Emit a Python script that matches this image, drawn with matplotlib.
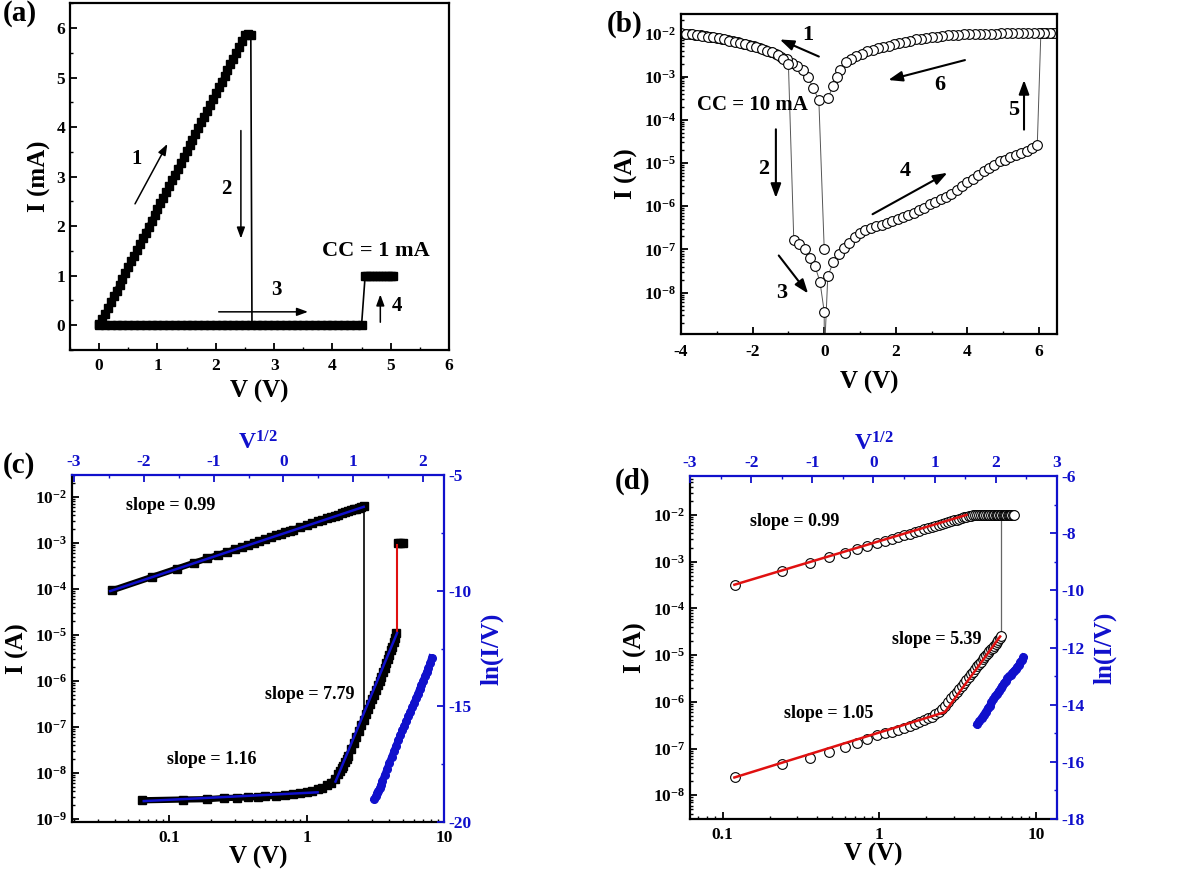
import numpy as np
import matplotlib
matplotlib.use("Agg")
import matplotlib.pyplot as plt
from matplotlib.ticker import MultipleLocator, LogLocator, FixedLocator, FuncFormatter, NullFormatter

plt.rcParams.update({
    "font.family": ["Liberation Serif", "DejaVu Serif"],
    "font.weight": "bold",
    "axes.labelweight": "bold",
    "axes.unicode_minus": False,
    "mathtext.fontset": "custom",
    "mathtext.rm": "Liberation Serif:bold",
    "mathtext.bf": "Liberation Serif:bold",
    "mathtext.it": "Liberation Serif:italic:bold",
    "axes.linewidth": 1.6,
    "xtick.direction": "in",
    "ytick.direction": "in",
    "xtick.labelsize": 12.5,
    "ytick.labelsize": 12.5,
    "xtick.major.size": 5,
    "ytick.major.size": 5,
    "xtick.minor.size": 2.5,
    "ytick.minor.size": 2.5,
    "xtick.major.width": 1.3,
    "ytick.major.width": 1.3,
    "xtick.minor.width": 1.0,
    "ytick.minor.width": 1.0,
})

BLUE = "#1010cc"
RED = "#e01010"

# ---------------- (a) linear I-V ----------------
a_set_v = [0.0, 0.05, 0.1, 0.15, 0.2, 0.25, 0.3, 0.35, 0.4, 0.45, 0.5, 0.55, 0.6, 0.65,
           0.7, 0.75, 0.8, 0.85, 0.9, 0.95, 1.0, 1.05, 1.1, 1.15, 1.2, 1.25, 1.3, 1.35,
           1.4, 1.45, 1.5, 1.55, 1.6, 1.65, 1.7, 1.75, 1.8, 1.85, 1.9, 1.95, 2.0, 2.05,
           2.1, 2.15, 2.2, 2.25, 2.3, 2.35, 2.4, 2.45, 2.5, 2.55, 2.6]
a_set_i = [0.02, 0.12, 0.23, 0.35, 0.47, 0.59, 0.70, 0.82, 0.94, 1.05, 1.17, 1.29, 1.40, 1.52,
           1.64, 1.76, 1.87, 1.99, 2.11, 2.22, 2.34, 2.46, 2.57, 2.69, 2.81, 2.93, 3.04, 3.16,
           3.28, 3.39, 3.51, 3.63, 3.74, 3.86, 3.98, 4.10, 4.21, 4.33, 4.45, 4.56, 4.68, 4.80,
           4.91, 5.03, 5.15, 5.27, 5.38, 5.50, 5.62, 5.73, 5.85, 5.88, 5.86]
a_drop_v = [2.6, 2.62]
a_drop_i = [5.86, 0.02]
a_off_v = [0.0, 0.1, 0.2, 0.3, 0.4, 0.5, 0.6, 0.7, 0.8, 0.9, 1.0, 1.1, 1.2, 1.3, 1.4, 1.5,
           1.6, 1.7, 1.8, 1.9, 2.0, 2.1, 2.2, 2.3, 2.4, 2.5, 2.6, 2.7, 2.8, 2.9, 3.0, 3.1,
           3.2, 3.3, 3.4, 3.5, 3.6, 3.7, 3.8, 3.9, 4.0, 4.1, 4.2, 4.3, 4.4, 4.5]
a_off_i = [0.0] * len(a_off_v)
a_jump_v = [4.5, 4.56]
a_jump_i = [0.03, 1.0]
a_cc_v = [4.56, 4.6, 4.65, 4.7, 4.75, 4.8, 4.85, 4.9, 4.95, 5.0, 5.03]
a_cc_i = [1.0, 1.0, 1.0, 1.0, 1.0, 1.0, 1.0, 1.0, 1.0, 1.0, 1.0]

# ---------------- (b) semilog sweep (measurement order) ----------------
b_neg_v = [0.0, -0.15, -0.3, -0.45, -0.6, -0.75, -0.9, -1.05, -1.2, -1.35, -1.5, -1.65, -1.8,
           -1.95, -2.1, -2.25, -2.4, -2.55, -2.7, -2.85, -3.0, -3.15, -3.3, -3.45, -3.6, -3.75,
           -3.9, -4.0,
           -3.85, -3.7, -3.55, -3.4, -3.25, -3.1, -2.95, -2.8, -2.65, -2.5, -2.35, -2.2, -2.05,
           -1.9, -1.75, -1.6, -1.45, -1.3, -1.15, -1.0]
b_neg_i = [1.0e-7, 2.8e-4, 5.3e-4, 9.5e-4, 1.4e-3, 1.75e-3, 2.1e-3, 2.5e-3, 2.9e-3, 3.3e-3,
           3.7e-3, 4.2e-3, 4.6e-3, 5.0e-3, 5.4e-3, 5.8e-3, 6.2e-3, 6.6e-3, 7.0e-3, 7.4e-3,
           7.8e-3, 8.2e-3, 8.6e-3, 9.0e-3, 9.3e-3, 9.6e-3, 9.9e-3, 1.0e-2,
           9.8e-3, 9.5e-3, 9.1e-3, 8.8e-3, 8.4e-3, 8.0e-3, 7.6e-3, 7.2e-3, 6.8e-3, 6.4e-3,
           6.0e-3, 5.6e-3, 5.2e-3, 4.8e-3, 4.4e-3, 4.0e-3, 3.6e-3, 3.1e-3, 2.6e-3, 1.9e-3]
b_hrs_v = [-0.85, -0.7, -0.55, -0.4, -0.26, -0.12, 0.0, 0.0,
           0.1, 0.25, 0.4, 0.55, 0.7, 0.85, 1.0, 1.15, 1.3, 1.45, 1.6, 1.75, 1.9, 2.05, 2.2,
           2.35, 2.5, 2.65, 2.8, 2.95, 3.1, 3.25, 3.4, 3.55, 3.7, 3.85, 4.0, 4.15, 4.3, 4.45,
           4.6, 4.75, 4.9, 5.05, 5.2, 5.35, 5.5, 5.65, 5.8, 5.95]
b_hrs_i = [1.65e-7, 1.3e-7, 1.0e-7, 6.4e-8, 4.1e-8, 1.8e-8, 3.6e-9, 3.0e-10,
           2.4e-8, 5.0e-8, 8.0e-8, 1.1e-7, 1.4e-7, 1.9e-7, 2.4e-7, 2.8e-7, 3.1e-7, 3.4e-7,
           3.7e-7, 4.1e-7, 4.5e-7, 5.1e-7, 5.7e-7, 6.3e-7, 7.1e-7, 8.0e-7, 9.2e-7, 1.1e-6,
           1.25e-6, 1.45e-6, 1.65e-6, 1.95e-6, 2.4e-6, 2.9e-6, 3.6e-6, 4.3e-6, 5.2e-6, 6.4e-6,
           7.6e-6, 9.0e-6, 1.08e-5, 1.2e-5, 1.38e-5, 1.53e-5, 1.7e-5, 1.9e-5, 2.2e-5, 2.6e-5]
b_lrs_v = [6.05, 6.2, 6.35, 6.45, 6.3, 6.15, 6.0, 5.85, 5.7, 5.55, 5.4, 5.25, 5.1, 4.95, 4.8,
           4.65, 4.5, 4.35, 4.2, 4.05, 3.9, 3.75, 3.6, 3.45, 3.3, 3.15, 3.0, 2.85, 2.7, 2.55,
           2.4, 2.25, 2.1, 1.95, 1.8, 1.65, 1.5, 1.35, 1.2, 1.05, 0.9, 0.75, 0.6, 0.45, 0.35,
           0.25, 0.1]
b_lrs_i = [1.0e-2, 1.0e-2, 1.0e-2, 1.0e-2, 1.0e-2, 1.0e-2, 1.0e-2, 1.0e-2, 1.0e-2, 1.0e-2,
           1.0e-2, 1.0e-2, 1.0e-2, 1.0e-2, 9.9e-3, 9.9e-3, 9.8e-3, 9.8e-3, 9.7e-3, 9.6e-3,
           9.5e-3, 9.3e-3, 9.1e-3, 8.9e-3, 8.7e-3, 8.4e-3, 8.1e-3, 7.8e-3, 7.5e-3, 7.2e-3,
           6.8e-3, 6.4e-3, 6.0e-3, 5.6e-3, 5.2e-3, 4.9e-3, 4.5e-3, 4.1e-3, 3.8e-3, 3.4e-3,
           3.0e-3, 2.6e-3, 2.2e-3, 1.45e-3, 1.0e-3, 6.1e-4, 3.1e-4]

# ---------------- (c) log-log, squares ----------------
c_lrs_v = [0.038, 0.075, 0.113, 0.15, 0.188, 0.225, 0.263, 0.3, 0.338, 0.375, 0.413, 0.45,
           0.5, 0.55, 0.6, 0.65, 0.7, 0.75, 0.8, 0.9, 1.0, 1.1, 1.2, 1.3, 1.4, 1.5, 1.6, 1.7,
           1.8, 1.9, 2.0, 2.1, 2.2, 2.3, 2.4, 2.5, 2.6]
c_lrs_i = [9.3e-5, 1.84e-4, 2.77e-4, 3.68e-4, 4.6e-4, 5.5e-4, 6.4e-4, 7.3e-4, 8.3e-4, 9.2e-4,
           1.01e-3, 1.1e-3, 1.22e-3, 1.35e-3, 1.47e-3, 1.59e-3, 1.71e-3, 1.84e-3, 1.96e-3,
           2.2e-3, 2.45e-3, 2.69e-3, 2.93e-3, 3.18e-3, 3.42e-3, 3.66e-3, 3.91e-3, 4.15e-3,
           4.39e-3, 4.64e-3, 4.88e-3, 5.12e-3, 5.37e-3, 5.61e-3, 5.85e-3, 6.1e-3, 6.3e-3]
c_hrs_v = [0.063, 0.125, 0.188, 0.25, 0.313, 0.375, 0.438, 0.5, 0.6, 0.7, 0.8, 0.9, 1.0, 1.1,
           1.2, 1.3, 1.4, 1.5, 1.6, 1.7, 1.75, 1.8, 1.85, 1.9, 1.95, 2.0, 2.1, 2.2, 2.3, 2.4,
           2.5, 2.6, 2.7, 2.8, 2.9, 3.0, 3.1, 3.2, 3.3, 3.4, 3.5, 3.6, 3.7, 3.8, 3.9, 4.0, 4.1,
           4.2, 4.3, 4.4, 4.5]
c_hrs_i = [2.55e-9, 2.65e-9, 2.7e-9, 2.85e-9, 2.9e-9, 2.95e-9, 3.0e-9, 3.1e-9, 3.2e-9,
           3.35e-9, 3.5e-9, 3.7e-9, 3.9e-9, 4.1e-9, 4.4e-9, 4.8e-9, 5.4e-9, 6.2e-9, 7.5e-9,
           9.5e-9, 1.1e-8, 1.3e-8, 1.45e-8, 1.7e-8, 2.0e-8, 2.4e-8, 3.3e-8, 4.5e-8, 6.2e-8,
           8.2e-8, 1.1e-7, 1.45e-7, 1.9e-7, 2.45e-7, 3.15e-7, 4.0e-7, 5.0e-7, 6.4e-7, 8.0e-7,
           1.0e-6, 1.25e-6, 1.57e-6, 1.95e-6, 2.45e-6, 3.0e-6, 3.7e-6, 4.6e-6, 5.6e-6, 6.9e-6,
           8.6e-6, 1.12e-5]
c_cc_v = [4.6, 4.8, 5.0]
c_cc_i = [1.0e-3, 1.0e-3, 1.0e-3]
c_reset_v = [2.6, 2.6]
c_reset_i = [6.3e-3, 2.2e-7]
c_set_v = [4.55, 4.55]
c_set_i = [1.15e-5, 9.0e-4]
c_fit_lrs_v, c_fit_lrs_i = [0.037, 2.6], [9.0e-5, 6.1e-3]
c_fit_ohm_v, c_fit_ohm_i = [0.065, 1.2], [2.45e-9, 3.8e-9]
c_fit_tcl_v, c_fit_tcl_i = [1.62, 4.55], [6.5e-9, 1.1e-5]

# ---------------- (d) log-log, circles ----------------
d_lrs_v = [0.12, 0.24, 0.36, 0.48, 0.6, 0.72, 0.84, 0.96, 1.08, 1.2, 1.32, 1.44, 1.56, 1.68,
           1.8, 1.92, 2.04, 2.16, 2.28, 2.4, 2.52, 2.64, 2.76, 2.88, 3.0, 3.12, 3.24, 3.36,
           3.48, 3.6, 3.72, 3.84, 3.96, 4.08, 4.2, 4.32, 4.44, 4.56, 4.68, 4.8, 4.92, 5.04,
           5.16, 5.28, 5.4, 5.52, 5.64, 5.76, 5.88, 6.0, 6.12, 6.24, 6.36, 6.48, 6.6, 6.72,
           6.84, 6.96, 7.08, 7.2]
d_lrs_i = [3.1e-4, 6.2e-4, 9.2e-4, 1.23e-3, 1.5e-3, 1.82e-3, 2.15e-3, 2.45e-3, 2.75e-3,
           3.05e-3, 3.35e-3, 3.65e-3, 3.95e-3, 4.3e-3, 4.6e-3, 4.9e-3, 5.2e-3, 5.5e-3, 5.8e-3,
           6.1e-3, 6.4e-3, 6.7e-3, 7.0e-3, 7.3e-3, 7.6e-3, 7.9e-3, 8.2e-3, 8.5e-3, 8.8e-3,
           9.1e-3, 9.4e-3, 9.6e-3, 9.8e-3, 9.9e-3, 1.0e-2, 1.0e-2, 1.0e-2, 1.0e-2, 1.0e-2,
           1.0e-2, 1.0e-2, 1.0e-2, 1.0e-2, 1.0e-2, 1.0e-2, 1.0e-2, 1.0e-2, 1.0e-2, 1.0e-2,
           1.0e-2, 1.0e-2, 1.0e-2, 1.0e-2, 1.0e-2, 1.0e-2, 1.0e-2, 1.0e-2, 1.0e-2, 1.0e-2,
           1.0e-2]
d_hrs_v = [0.12, 0.24, 0.36, 0.48, 0.6, 0.72, 0.84, 0.96, 1.08, 1.2, 1.32, 1.44, 1.56, 1.68,
           1.8, 1.92, 2.04, 2.16, 2.28, 2.4, 2.52, 2.64, 2.76, 2.88, 3.0, 3.12, 3.24, 3.36,
           3.48, 3.6, 3.72, 3.84, 3.96, 4.08, 4.2, 4.32, 4.44, 4.56, 4.68, 4.8, 4.92, 5.04,
           5.16, 5.28, 5.4, 5.52, 5.64, 5.76, 5.88, 6.0]
d_hrs_i = [2.4e-8, 4.6e-8, 6.4e-8, 8.5e-8, 1.1e-7, 1.3e-7, 1.6e-7, 1.9e-7, 2.1e-7, 2.3e-7,
           2.5e-7, 2.75e-7, 3.0e-7, 3.3e-7, 3.7e-7, 4.0e-7, 4.4e-7, 4.8e-7, 5.4e-7, 6.0e-7,
           7.0e-7, 8.3e-7, 1.0e-6, 1.2e-6, 1.42e-6, 1.65e-6, 1.9e-6, 2.2e-6, 2.55e-6, 2.9e-6,
           3.35e-6, 3.85e-6, 4.4e-6, 5.0e-6, 5.7e-6, 6.4e-6, 7.2e-6, 8.1e-6, 9.0e-6, 1.0e-5,
           1.1e-5, 1.2e-5, 1.32e-5, 1.44e-5, 1.57e-5, 1.72e-5, 1.9e-5, 2.1e-5, 2.35e-5, 2.6e-5]
d_reset_v = [6.0, 6.0]
d_reset_i = [1.0e-2, 2.6e-5]
d_fit_lrs_v, d_fit_lrs_i = [0.119, 3.6], [3.2e-4, 1.0e-2]
d_fit_hrs_v, d_fit_hrs_i = [0.119, 2.62, 5.9], [2.4e-8, 6.0e-7, 2.5e-5]


def arrow(ax, start, end, lw=1.5, scale=14):
    ax.annotate("", xy=end, xytext=start,
                arrowprops=dict(arrowstyle="-|>,head_length=0.6,head_width=0.22",
                                lw=lw, color="k", shrinkA=0, shrinkB=0,
                                mutation_scale=scale))


def log_y(ax, lo, hi):
    ax.set_yscale("log")
    ax.set_ylim(lo, hi)
    decades = 10.0 ** np.arange(np.ceil(np.log10(lo)), np.floor(np.log10(hi)) + 1)
    ax.yaxis.set_major_locator(FixedLocator(decades))
    ax.yaxis.set_minor_locator(LogLocator(base=10, subs=(2, 3, 4, 5, 6, 7, 8, 9), numticks=30))
    ax.yaxis.set_minor_formatter(NullFormatter())


def log_x(ax, lo, hi):
    ax.set_xscale("log")
    ax.set_xlim(lo, hi)
    decades = 10.0 ** np.arange(np.ceil(np.log10(lo)), np.floor(np.log10(hi)) + 1)
    ax.xaxis.set_major_locator(FixedLocator(decades))
    ax.xaxis.set_minor_locator(LogLocator(base=10, subs=(2, 3, 4, 5, 6, 7, 8, 9), numticks=30))
    ax.xaxis.set_minor_formatter(NullFormatter())
    ax.xaxis.set_major_formatter(FuncFormatter(lambda x, p: "%g" % x))
    ax.tick_params(axis="x", which="major", pad=6)


def sci(y, p):
    return "10$^{%d}$" % round(np.log10(y))


def overlay(fig, ax):
    # second axes for V^1/2 (top) and ln(I/V) (right)
    ax2 = fig.add_axes(ax.get_position())
    ax2.patch.set_visible(False)
    ax2.xaxis.tick_top()
    ax2.xaxis.set_label_position("top")
    ax2.yaxis.tick_right()
    ax2.yaxis.set_label_position("right")
    ax2.spines["left"].set_visible(False)
    ax2.spines["bottom"].set_visible(False)
    ax2.spines["top"].set_color(BLUE)
    ax2.spines["right"].set_color(BLUE)
    ax2.tick_params(which="both", colors=BLUE, labelcolor=BLUE)
    ax.spines["top"].set_visible(False)
    ax.spines["right"].set_visible(False)
    return ax2


fig = plt.figure(figsize=(12, 8.8), dpi=100)

# ---- (a)
ax = fig.add_axes([0.0583, 0.6023, 0.316, 0.394])
ax.plot(a_set_v, a_set_i, "s-", color="k", ms=5.5, lw=4)
ax.plot(a_drop_v, a_drop_i, "-", color="k", lw=1.2)
ax.plot(a_off_v, a_off_i, "s-", color="k", ms=5.5, lw=4.5)
ax.plot(a_jump_v, a_jump_i, "-", color="k", lw=1.2)
ax.plot(a_cc_v, a_cc_i, "s-", color="k", ms=5.5, lw=4.5)
ax.set_xlim(-0.5, 6)
ax.set_ylim(-0.5, 6.5)
ax.xaxis.set_major_locator(MultipleLocator(1))
ax.xaxis.set_minor_locator(MultipleLocator(0.5))
ax.yaxis.set_major_locator(MultipleLocator(1))
ax.yaxis.set_minor_locator(MultipleLocator(0.5))
ax.tick_params(axis="x", pad=6)
ax.set_xlabel("V (V)", fontsize=18)
ax.set_ylabel("I (mA)", fontsize=18)
arrow(ax, (0.615, 2.45), (1.17, 3.66), lw=1.1, scale=11)
arrow(ax, (2.43, 3.93), (2.43, 1.75), lw=1.1, scale=11)
arrow(ax, (2.05, 0.27), (3.58, 0.27), lw=1.1, scale=11)
arrow(ax, (4.82, 0.06), (4.82, 0.62), lw=1.1, scale=11)
ax.text(0.64, 3.36, "1", fontsize=15, ha="center", va="center")
ax.text(2.18, 2.76, "2", fontsize=15, ha="center", va="center")
ax.text(3.04, 0.72, "3", fontsize=15, ha="center", va="center")
ax.text(5.1, 0.38, "4", fontsize=15, ha="center", va="center")
ax.text(4.74, 1.49, "CC = 1 mA", fontsize=16, ha="center", va="center")

# ---- (b)
ax = fig.add_axes([0.5675, 0.6205, 0.3133, 0.3636])
seq_v = b_neg_v + b_hrs_v + b_lrs_v
seq_i = b_neg_i + b_hrs_i + b_lrs_i
ax.plot(seq_v, seq_i, "-", color="#555555", lw=0.7)
ax.plot(seq_v, seq_i, "o", mfc="white", mec="k", mew=0.8, ms=7)
log_y(ax, 1.1e-9, 2.8e-2)
ax.yaxis.set_major_formatter(FuncFormatter(sci))
ax.set_xlim(-4, 6.5)
ax.xaxis.set_major_locator(MultipleLocator(2))
ax.xaxis.set_minor_locator(MultipleLocator(1))
ax.tick_params(top=False, right=False, which="both")
ax.tick_params(axis="x", pad=7)
ax.set_xlabel("V (V)", fontsize=18, labelpad=8)
ax.set_ylabel("I (A)", fontsize=18)
arrow(ax, (-0.15, 2.9e-3), (-1.24, 7.2e-3))
arrow(ax, (3.93, 2.4e-3), (1.79, 8.3e-4))
arrow(ax, (5.58, 5.9e-5), (5.58, 8.3e-4))
arrow(ax, (-1.35, 6.0e-5), (-1.35, 1.55e-6))
arrow(ax, (1.35, 6.5e-7), (3.44, 5.9e-6))
arrow(ax, (-1.27, 7.2e-8), (-0.45, 9.5e-9))
ax.text(-0.45, 9.2e-3, "1", fontsize=16, ha="center", va="center")
ax.text(3.23, 6.5e-4, "6", fontsize=16, ha="center", va="center")
ax.text(5.28, 1.7e-4, "5", fontsize=16, ha="center", va="center")
ax.text(-1.7, 7.1e-6, "2", fontsize=16, ha="center", va="center")
ax.text(2.25, 6.5e-6, "4", fontsize=16, ha="center", va="center")
ax.text(-1.19, 1.0e-8, "3", fontsize=16, ha="center", va="center")
ax.text(-3.54, 2.2e-4, "CC = 10 mA", fontsize=15, ha="left", va="center")

# ---- (c)
ax = fig.add_axes([0.06, 0.0659, 0.31, 0.3943])
ax.plot(c_lrs_v, c_lrs_i, "s-", color="k", ms=5.5, lw=4.5)
ax.plot(c_hrs_v, c_hrs_i, "s-", color="k", ms=5.5, lw=4.5)
ax.plot(c_cc_v, c_cc_i, "s", color="k", ms=6)
ax.plot(c_reset_v, c_reset_i, "-", color="k", lw=1.2)
ax.plot(c_set_v, c_set_i, "-", color=RED, lw=1.5)
ax.plot(c_fit_lrs_v, c_fit_lrs_i, "-", color=BLUE, lw=1.8)
ax.plot(c_fit_ohm_v, c_fit_ohm_i, "-", color=BLUE, lw=1.8)
ax.plot(c_fit_tcl_v, c_fit_tcl_i, "-", color=BLUE, lw=1.8)
log_x(ax, 0.0195, 10)
log_y(ax, 8.6e-10, 3e-2)
ax.yaxis.set_major_formatter(FuncFormatter(sci))
ax.set_xlabel("V (V)", fontsize=18, labelpad=0)
ax.set_ylabel("I (A)", fontsize=18)
ax.text(0.048, 6.5e-3, "slope = 0.99", fontsize=13, va="center")
ax.text(0.495, 5.2e-7, "slope = 7.79", fontsize=13, va="center")
ax.text(0.096, 1.95e-8, "slope = 1.16", fontsize=13, va="center")
ax2 = overlay(fig, ax)
cv = np.array(c_hrs_v)
ci = np.array(c_hrs_i)
m = cv >= 1.7
ax2.plot(np.sqrt(cv[m]), np.log(ci[m] / cv[m]), "o-", color=BLUE, ms=5.5, lw=5)
ax2.set_xlim(-3.03, 2.3)
ax2.set_ylim(-20, -5)
ax2.xaxis.set_major_locator(MultipleLocator(1))
ax2.xaxis.set_minor_locator(MultipleLocator(0.5))
ax2.yaxis.set_major_locator(MultipleLocator(5))
ax2.yaxis.set_minor_locator(MultipleLocator(2.5))
ax2.set_xlabel("V$^{1/2}$", fontsize=17, color=BLUE, labelpad=3)
ax2.set_ylabel("ln(I/V)", fontsize=18, color=BLUE, labelpad=6)

# ---- (d)
ax = fig.add_axes([0.575, 0.0693, 0.3058, 0.3898])
ax.plot(d_reset_v, d_reset_i, "-", color="#666666", lw=0.9)
ax.plot(d_lrs_v, d_lrs_i, "o", mfc="white", mec="k", mew=0.8, ms=7)
ax.plot(d_hrs_v, d_hrs_i, "o", mfc="white", mec="k", mew=0.8, ms=7)
ax.plot(d_fit_lrs_v, d_fit_lrs_i, "-", color=RED, lw=1.8)
ax.plot(d_fit_hrs_v, d_fit_hrs_i, "-", color=RED, lw=1.8)
log_x(ax, 0.062, 13.6)
log_y(ax, 3.1e-9, 0.068)
ax.yaxis.set_major_formatter(FuncFormatter(sci))
ax.set_xlabel("V (V)", fontsize=18, labelpad=0)
ax.set_ylabel("I (A)", fontsize=18)
ax.text(0.15, 7.4e-3, "slope = 0.99", fontsize=13, va="center")
ax.text(1.2, 2.2e-5, "slope = 5.39", fontsize=13, va="center")
ax.text(0.246, 5.6e-7, "slope = 1.05", fontsize=13, va="center")
ax2 = overlay(fig, ax)
dv = np.array(d_hrs_v)
di = np.array(d_hrs_i)
m = dv >= 2.8
ax2.plot(np.sqrt(dv[m]), np.log(di[m] / dv[m]), "o-", color=BLUE, ms=5.5, lw=5)
ax2.set_xlim(-3, 3)
ax2.set_ylim(-18, -6)
ax2.xaxis.set_major_locator(MultipleLocator(1))
ax2.xaxis.set_minor_locator(MultipleLocator(0.5))
ax2.yaxis.set_major_locator(MultipleLocator(2))
ax2.yaxis.set_minor_locator(MultipleLocator(1))
ax2.set_xlabel("V$^{1/2}$", fontsize=17, color=BLUE, labelpad=3)
ax2.set_ylabel("ln(I/V)", fontsize=18, color=BLUE, labelpad=6)

fig.text(0.002, 0.985, "(a)", fontsize=21, ha="left", va="center")
fig.text(0.506, 0.972, "(b)", fontsize=21, ha="left", va="center")
fig.text(0.002, 0.4705, "(c)", fontsize=21, ha="left", va="center")
fig.text(0.5125, 0.4534, "(d)", fontsize=21, ha="left", va="center")

fig.savefig("out.png", dpi=100)
